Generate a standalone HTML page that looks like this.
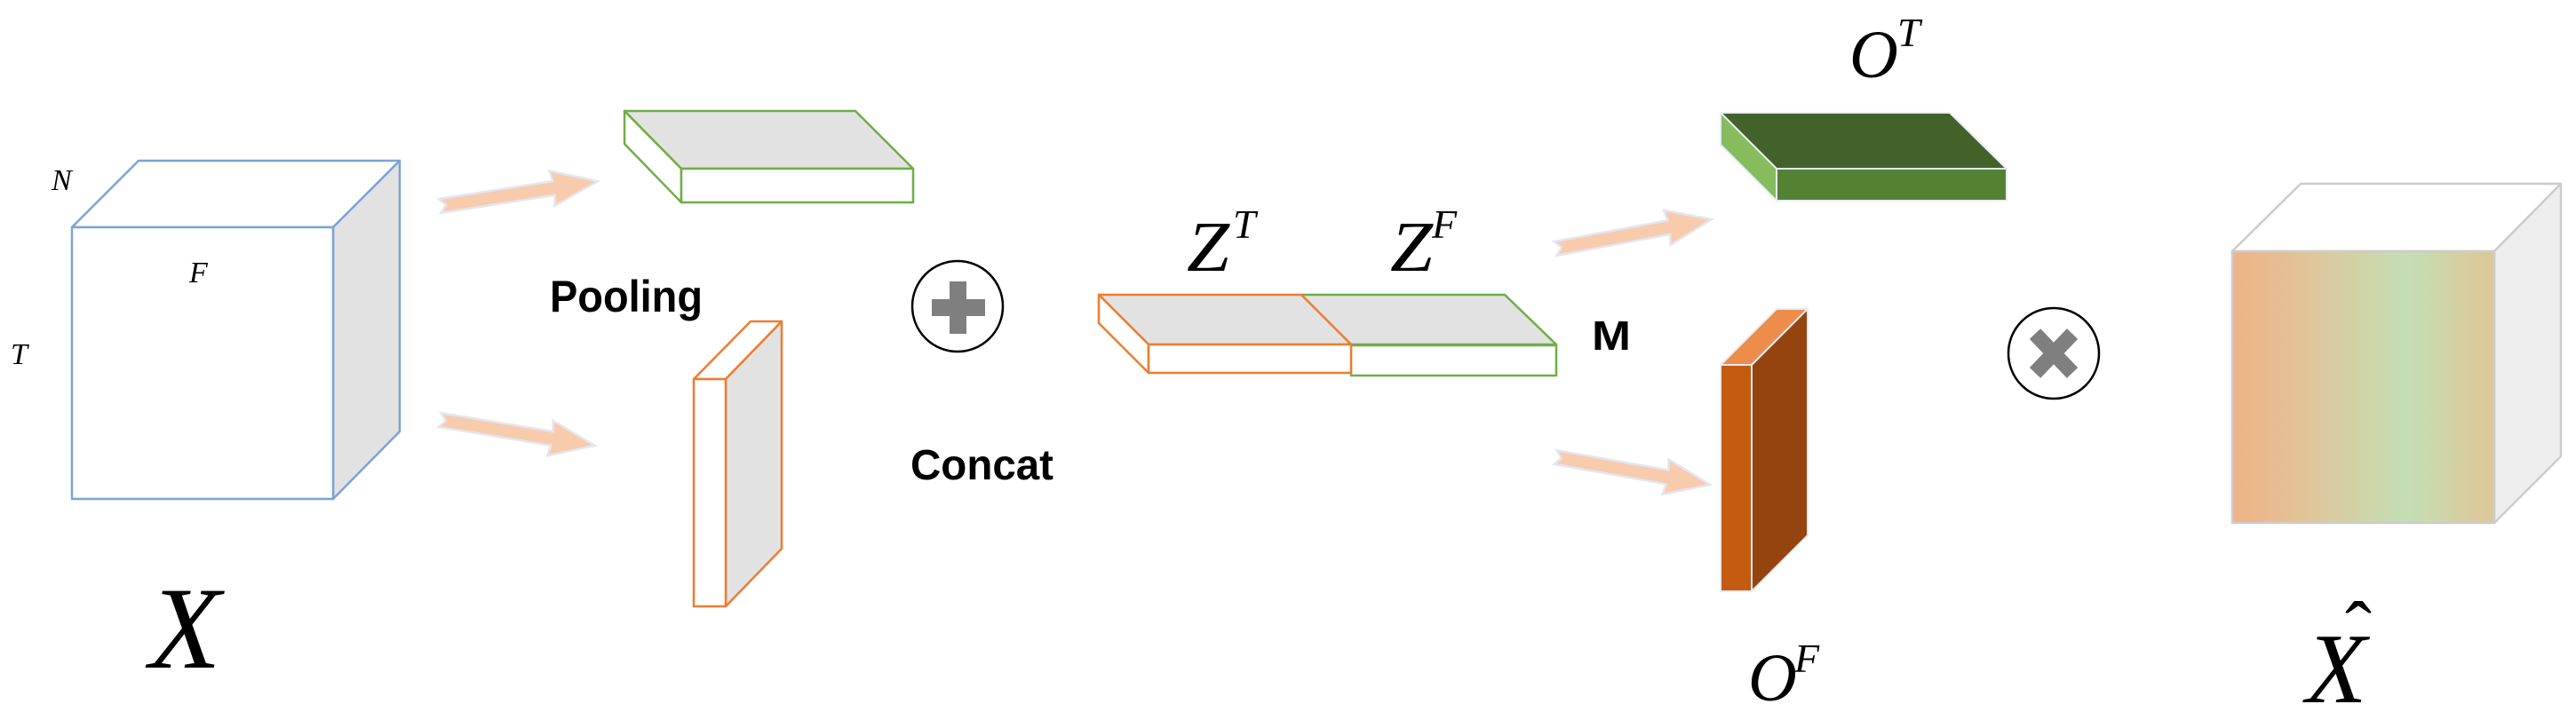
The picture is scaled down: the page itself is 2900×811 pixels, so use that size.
<!DOCTYPE html>
<html><head><meta charset="utf-8"><style>html,body{margin:0;padding:0;background:#fff}svg{display:block}</style></head>
<body>
<svg width="2900" height="811" viewBox="0 0 2900 811" xmlns="http://www.w3.org/2000/svg">
<defs>
<linearGradient id="g" x1="0" y1="0" x2="1" y2="0">
<stop offset="0" stop-color="#f0b287"/>
<stop offset="0.3" stop-color="#dfc69a"/>
<stop offset="0.66" stop-color="#c3dfb3"/>
<stop offset="1" stop-color="#dfc697"/>
</linearGradient>
</defs>
<!-- X cube -->
<g stroke="#7ba3d6" stroke-width="2.5" stroke-linejoin="round">
<polygon points="81,256 156,181 450,181 375,256" fill="#fff"/>
<polygon points="375,256 450,181 450,486 375,562" fill="#e2e2e2"/>
<rect x="81" y="256" width="294" height="306" fill="#fff"/>
</g>
<g font-family="Liberation Serif, serif" font-style="italic" fill="#000">
<text x="58" y="214" font-size="34">N</text>
<text x="213" y="318" font-size="34">F</text>
<text x="12" y="410" font-size="34">T</text>
<text x="168" y="752" font-size="132">X</text>
</g>
<!-- arrows -->
<g fill="#f8cbad" stroke="#e3e6f2" stroke-width="2.5" stroke-linejoin="miter">
<polygon transform="translate(495,232) rotate(-8.9)" points="0,-8 130,-8 128,-20 180,0 128,20 130,8 0,8 7,0"/>
<polygon transform="translate(495,473) rotate(9.4)" points="0,-8 128,-8 126,-20 177,0 126,20 128,8 0,8 7,0"/>
<polygon transform="translate(1751,280) rotate(-10.6)" points="0,-8 130,-8 128,-20 179,0 128,20 130,8 0,8 7,0"/>
<polygon transform="translate(1751,515) rotate(10.1)" points="0,-8 128,-8 126,-20 177,0 126,20 128,8 0,8 7,0"/>
</g>
<!-- green pooled slab -->
<g stroke="#70ad47" stroke-width="2.5" stroke-linejoin="round">
<polygon points="703,125 963,125 1028,190 767,190" fill="#e2e2e2"/>
<polygon points="703,125 703,162 767,228 767,190" fill="#fff"/>
<rect x="767" y="190" width="261" height="38" fill="#fff"/>
</g>
<!-- orange pooled slab -->
<g stroke="#ed7d31" stroke-width="2.5" stroke-linejoin="round">
<polygon points="781,427 845,362 880,362 817,427" fill="#fff"/>
<polygon points="817,427 880,362 880,618 817,683" fill="#e2e2e2"/>
<rect x="781" y="427" width="36" height="256" fill="#fff"/>
</g>
<g font-family="Liberation Sans, sans-serif" font-weight="bold" fill="#000">
<text x="619" y="351" font-size="50" textLength="172" lengthAdjust="spacingAndGlyphs">Pooling</text>
<text x="1025" y="540" font-size="48" textLength="161" lengthAdjust="spacingAndGlyphs">Concat</text>
<text x="1792" y="394" font-size="46" textLength="44" lengthAdjust="spacingAndGlyphs">M</text>
</g>
<!-- plus circle -->
<ellipse cx="1078" cy="345" rx="51" ry="51" fill="#fff" stroke="#000" stroke-width="2.5"/>
<rect x="1049" y="337" width="60" height="19" fill="#7f7f7f"/>
<rect x="1069" y="317" width="19" height="59" fill="#7f7f7f"/>
<!-- Z block -->
<g stroke-width="2.5" stroke-linejoin="round">
<polygon points="1465,332 1694,332 1752,388 1521,388" fill="#e2e2e2" stroke="#70ad47"/>
<rect x="1521" y="389" width="231" height="34" fill="#fff" stroke="#70ad47"/>
<polygon points="1237,332 1465,332 1521,388 1293,388" fill="#e2e2e2" stroke="#ed7d31"/>
<polygon points="1237,332 1237,364 1293,420 1293,388" fill="#fff" stroke="#ed7d31"/>
<rect x="1293" y="388" width="228" height="32" fill="#fff" stroke="#ed7d31"/>
</g>
<g font-family="Liberation Serif, serif" font-style="italic" fill="#000">
<text x="1336" y="305" font-size="80" textLength="48" lengthAdjust="spacingAndGlyphs">Z</text>
<text x="1388" y="268" font-size="46">T</text>
<text x="1565" y="305" font-size="80" textLength="48" lengthAdjust="spacingAndGlyphs">Z</text>
<text x="1612" y="268" font-size="46">F</text>
<text x="2082" y="87" font-size="76">O</text>
<text x="2136" y="52" font-size="46">T</text>
<text x="1968" y="789" font-size="76">O</text>
<text x="2020" y="757" font-size="46">F</text>
<text x="2596" y="791" font-size="112">X</text>
<text x="2640" y="740" font-size="90" font-style="normal">ˆ</text>
</g>
<!-- O^T slab -->
<g stroke="#e8ecf4" stroke-width="2" stroke-linejoin="round">
<polygon points="1937,127 2195,127 2259,190 2000,190" fill="#43622a"/>
<polygon points="1937,127 1937,163 2000,226 2000,190" fill="#86bc5e"/>
<rect x="2000" y="190" width="259" height="36" fill="#548235"/>
</g>
<!-- O^F slab -->
<g stroke="#e8ecf4" stroke-width="2" stroke-linejoin="round">
<polygon points="1937,411 2000,348 2035,348 1972,411" fill="#ee8c4c"/>
<polygon points="1972,411 2035,348 2035,603 1972,666" fill="#954410"/>
<rect x="1937" y="411" width="35" height="255" fill="#c55a11"/>
</g>
<!-- times circle -->
<ellipse cx="2312" cy="398" rx="51" ry="51" fill="#fff" stroke="#000" stroke-width="2.5"/>
<g stroke="#7f7f7f" stroke-width="17">
<line x1="2291" y1="376" x2="2333" y2="420"/>
<line x1="2333" y1="376" x2="2291" y2="420"/>
</g>
<!-- X hat cube -->
<g stroke="#cccccc" stroke-width="2.5" stroke-linejoin="round">
<polygon points="2513,283 2590,207 2883,207 2808,283" fill="#fff"/>
<polygon points="2808,283 2883,207 2883,514 2808,589" fill="#eeeeee"/>
<rect x="2513" y="283" width="295" height="306" fill="url(#g)"/>
</g>
</svg>
</body></html>
